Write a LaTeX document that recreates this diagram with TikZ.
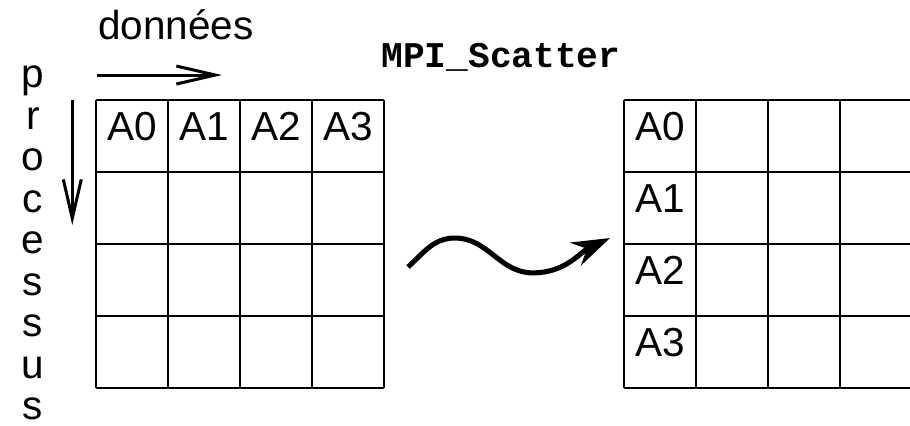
\documentclass[tikz,border=0pt]{standalone}
\usepackage{fontspec}
\setmainfont{Liberation Sans}
\newfontfamily\codefont{Liberation Mono}
\usetikzlibrary{arrows.meta}

\begin{document}
\begin{tikzpicture}[x=1cm,y=-1cm,
    lbl/.style={font=\fontsize{16}{19}\selectfont, inner sep=0pt},
    gridline/.style={line width=0.6pt},
    axis/.style={line width=1.2pt, -{Straight Barb[length=0.54cm,width=0.25cm]}}]

  \useasboundingbox (0,0) rectangle (12.639,5.903);

  % Tableau de depart
  \foreach \k in {0,...,4} {
    \draw[gridline] (1.333+\k,1.389) -- (1.333+\k,5.389);
    \draw[gridline] (1.333,1.389+\k) -- (5.333,1.389+\k);
  }
  \foreach \k in {0,...,3}
    \node[lbl, anchor=base] (src\k) at (1.833+\k,1.958) {A\k};

  % Tableau d'arrivee
  \foreach \k in {0,...,4} {
    \draw[gridline] (8.667+\k,1.389) -- (8.667+\k,5.389);
    \draw[gridline] (8.667,1.389+\k) -- (12.667,1.389+\k);
  }
  \foreach \k in {0,...,3}
    \node[lbl, anchor=base] (dst\k) at (9.167,1.958+\k) {A\k};

  % Axe des donnees
  \node[lbl, anchor=base] (donnees) at (2.444,0.55) {données};
  \coordinate (dfrom) at (1.347,1.042);
  \coordinate (dto) at (3.083,1.042);
  \draw[axis] (dfrom) -- (dto);

  % Axe des processus
  \foreach \c [count=\i from 0] in {p,r,o,c,e,s,s,u,s}
    \node[lbl, anchor=base] (proc\i) at (0.458,1.222+0.576*\i) {\c};
  \coordinate (pfrom) at (1.004,1.389);
  \coordinate (pto) at (1.004,3.125);
  \draw[axis] (pfrom) -- (pto);

  % Operation
  \node[font=\codefont\bfseries\fontsize{14.3}{17}\selectfont, anchor=base, inner sep=0pt]
    (scatter) at (6.958,0.931) {MPI\_Scatter};
  \coordinate (wfrom) at (5.667,3.708);
  \coordinate (wto) at (8.472,3.306);
  \draw[line width=2pt, -{Stealth[length=15pt,width=10pt,inset=5pt]}]
    (wfrom) to[out=42,in=180] (6.32,3.306) to[out=0,in=180] (7.40,3.79)
    to[out=0,in=205] (wto);

\end{tikzpicture}
\end{document}
